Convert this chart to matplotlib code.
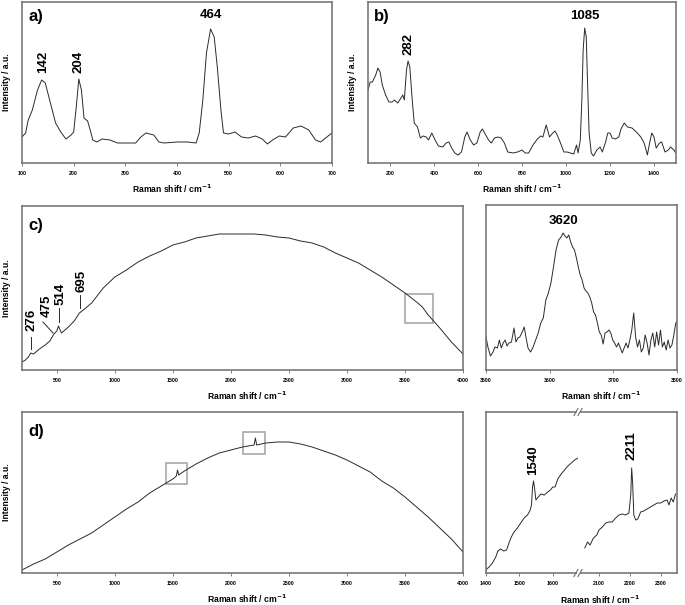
import matplotlib
matplotlib.use("Agg")
import matplotlib.pyplot as plt
from matplotlib.patches import Rectangle
from matplotlib.lines import Line2D

plt.rcParams['font.family'] = ['Liberation Sans', 'DejaVu Sans']
plt.rcParams['font.weight'] = 'bold'

# ---- data (intensity in arbitrary units) ----
a_x = [100, 107, 112, 120, 130, 138, 145, 155, 165, 175, 185, 195, 200, 205, 210,
       215, 220, 227, 232, 237, 245, 255, 270, 285, 300, 320, 330, 340, 355, 365,
       375, 400, 420, 437, 443, 450, 457, 465, 472, 478, 485, 490, 500, 512, 525,
       538, 552, 565, 575, 585, 598, 610, 625, 640, 655, 668, 678, 690, 700]
a_y = [26, 30, 43, 53, 73, 83, 80, 60, 40, 31, 24, 28, 31, 56, 84,
       73, 45, 42, 33, 23, 21, 24, 23, 20, 20, 20, 26, 30, 28, 21,
       20, 21, 21, 20, 30, 63, 110, 134, 126, 96, 53, 30, 29, 31, 26,
       25, 27, 24, 19, 23, 27, 26, 35, 37, 33, 23, 21, 26, 30]

b_x = [100, 110, 120, 135, 145, 155, 165, 180, 195, 210, 220, 235, 250, 258, 265,
       275, 282, 290, 300, 310, 325, 338, 350, 365, 375, 390, 405, 420, 440, 455,
       468, 480, 495, 510, 525, 540, 550, 565, 580, 595, 610, 620, 635, 648, 660,
       675, 690, 705, 720, 735, 760, 780, 800, 815, 830, 850, 870, 885, 895, 910,
       925, 940, 950, 960, 975, 990, 1005, 1020, 1035, 1048, 1055, 1065, 1072, 1078, 1085,
       1092, 1098, 1105, 1115, 1125, 1140, 1155, 1165, 1180, 1190, 1200, 1210, 1225, 1240, 1250,
       1265, 1280, 1300, 1320, 1340, 1355, 1370, 1380, 1390, 1400, 1410, 1425, 1435, 1450, 1465,
       1475, 1490, 1500]
b_y = [73, 81, 81, 88, 95, 91, 78, 68, 61, 61, 63, 60, 65, 68, 63,
       93, 102, 96, 66, 40, 36, 25, 27, 26, 23, 30, 23, 17, 16, 20,
       21, 15, 10, 8, 11, 26, 31, 23, 18, 20, 31, 34, 28, 23, 20,
       25, 26, 25, 20, 11, 10, 11, 13, 10, 10, 18, 24, 27, 26, 38,
       26, 30, 32, 28, 20, 11, 11, 10, 9, 18, 10, 23, 63, 113, 135,
       126, 80, 30, 10, 7, 13, 16, 11, 21, 30, 30, 25, 24, 26, 34,
       40, 36, 35, 31, 26, 20, 8, 20, 30, 26, 15, 20, 21, 11, 13,
       16, 13, 10]

c_x = [200, 230, 255, 276, 295, 310, 350, 400, 440, 475, 500, 514, 540, 600, 650,
       695, 750, 800, 900, 1000, 1100, 1200, 1300, 1400, 1500, 1600, 1700, 1800, 1900, 2000,
       2100, 2200, 2300, 2400, 2500, 2600, 2700, 2800, 2900, 3000, 3100, 3200, 3300, 3400, 3500,
       3600, 3650, 3700, 3800, 3900, 4000]
c_y = [8, 10, 13, 17, 16, 17, 21, 25, 29, 36, 39, 44, 37, 43, 49,
       57, 62, 67, 82, 93, 100, 108, 114, 119, 125, 128, 132, 134, 136, 136,
       136, 136, 135, 133, 132, 129, 127, 123, 117, 112, 107, 100, 93, 85, 77,
       68, 63, 55, 42, 28, 16]

oh_x = [3500, 3503, 3507, 3511, 3514, 3518, 3521, 3524, 3527, 3530, 3533, 3536, 3540, 3544, 3547,
        3550, 3553, 3557, 3560, 3563, 3566, 3570, 3574, 3578, 3582, 3586, 3590, 3594, 3598, 3602,
        3606, 3610, 3614, 3618, 3621, 3624, 3627, 3630, 3633, 3636, 3639, 3642, 3645, 3648, 3651,
        3654, 3657, 3660, 3663, 3666, 3669, 3672, 3675, 3678, 3681, 3684, 3687, 3690, 3693, 3696,
        3699, 3702, 3705, 3708, 3711, 3714, 3717, 3720, 3723, 3726, 3729, 3732, 3735, 3738, 3741,
        3744, 3747, 3750, 3753, 3756, 3759, 3762, 3765, 3768, 3771, 3774, 3777, 3780, 3783, 3786,
        3789, 3792, 3795, 3798, 3800]
oh_y = [33, 23, 14, 18, 23, 22, 30, 22, 27, 30, 24, 27, 28, 42, 28,
        32, 33, 38, 43, 32, 22, 18, 23, 30, 37, 47, 52, 70, 77, 87,
        103, 120, 130, 133, 137, 134, 132, 135, 128, 123, 120, 112, 103, 95, 90,
        82, 79, 77, 73, 67, 58, 55, 47, 38, 35, 26, 37, 38, 40, 37,
        30, 27, 23, 27, 22, 17, 22, 27, 22, 30, 40, 57, 33, 23, 30,
        18, 22, 35, 27, 15, 30, 37, 23, 38, 25, 40, 23, 28, 20, 30,
        22, 25, 35, 47, 48]

d_x = [200, 250, 300, 400, 500, 600, 700, 800, 900, 1000, 1100, 1200, 1300, 1400, 1500,
       1530, 1540, 1550, 1600, 1700, 1800, 1900, 2000, 2100, 2200, 2211, 2222, 2300, 2400, 2500,
       2600, 2700, 2800, 2900, 3000, 3100, 3200, 3300, 3400, 3500, 3600, 3700, 3800, 3900, 4000]
d_y = [3, 6, 9, 14, 21, 28, 34, 40, 48, 56, 64, 71, 80, 87, 94,
       97, 103, 98, 102, 109, 115, 120, 123, 126, 128, 135, 128, 130, 131, 131,
       129, 126, 122, 118, 113, 107, 101, 92, 85, 76, 66, 56, 45, 34, 21]

d1_x = [1400, 1410, 1420, 1430, 1436, 1444, 1454, 1462, 1469, 1476, 1484, 1494, 1504, 1514, 1524,
        1531, 1536, 1539, 1542, 1545, 1549, 1556, 1564, 1574, 1584, 1592, 1599, 1606, 1614, 1624,
        1634, 1644, 1654, 1664, 1674]
d1_y = [3, 6, 10, 16, 22, 24, 22, 23, 30, 36, 41, 45, 50, 55, 58,
        62, 68, 86, 92, 85, 73, 76, 79, 78, 81, 83, 86, 86, 94, 99,
        103, 107, 110, 113, 115]

d2_x = [2054, 2063, 2071, 2082, 2093, 2100, 2111, 2122, 2133, 2143, 2154, 2165, 2176, 2186, 2197,
        2203, 2206, 2209, 2213, 2219, 2226, 2235, 2245, 2256, 2267, 2278, 2289, 2300, 2311, 2321,
        2327, 2334, 2341, 2348]
d2_y = [25, 31, 28, 35, 38, 43, 46, 50, 51, 51, 55, 58, 59, 58, 60,
        78, 105, 91, 58, 53, 54, 61, 62, 64, 66, 68, 70, 70, 72, 73,
        68, 75, 71, 79]

W, H = 685, 605
LINE = '#2a2a2a'
FRAME = '#6e6e6e'
BOX = '#a0a0a0'
XLABEL = 'Raman shift / cm$^{\\mathbf{-1}}$'


def px_axes(l, t, r, b):
    return fig.add_axes([l / W, 1 - b / H, (r - l) / W, (b - t) / H])


def style(ax, ylabel=True, xlab_dx=0):
    for s in ax.spines.values():
        s.set_color(FRAME)
        s.set_linewidth(1.1)
    ax.tick_params(axis='x', direction='out', length=2.5, width=0.6, color=FRAME,
                   labelsize=3.8, pad=3)
    ax.set_yticks([])
    bb = ax.get_position()
    wpx, hpx = bb.width * W, bb.height * H
    ax.set_xlabel(XLABEL, fontsize=6.2, fontweight='bold')
    ax.xaxis.set_label_coords(0.5 + xlab_dx / wpx, -20 / hpx)
    if ylabel:
        ax.set_ylabel('Intensity / a.u.', fontsize=6.2, fontweight='bold')
        ax.yaxis.set_label_coords(-11 / wpx, 0.5)
    for lab in ax.get_xticklabels():
        lab.set_fontweight('bold')


fig = plt.figure(figsize=(W / 100, H / 100), dpi=100)

# a)
ax = px_axes(22, 2, 332, 163)
ax.plot(a_x, a_y, color=LINE, lw=0.7)
ax.set_xlim(100, 700)
ax.set_ylim(0, 161)
ax.set_xticks([100, 200, 300, 400, 500, 600, 700])
style(ax, xlab_dx=-5)
ax.text(0.02, 0.91, 'a)', transform=ax.transAxes, fontsize=12, fontweight='bold', va='center')
ax.text(141, 101, '142', rotation=90, ha='center', va='center', fontsize=9.5, fontweight='bold')
ax.text(210, 101, '204', rotation=90, ha='center', va='center', fontsize=9.5, fontweight='bold')
ax.text(466, 148, '464', ha='center', va='center', fontsize=9.5, fontweight='bold')

# b)
ax = px_axes(368, 2, 676, 163)
ax.plot(b_x, b_y, color=LINE, lw=0.7)
ax.set_xlim(100, 1500)
ax.set_ylim(0, 161)
ax.set_xticks([200, 400, 600, 800, 1000, 1200, 1400])
style(ax)
ax.text(0.02, 0.91, 'b)', transform=ax.transAxes, fontsize=12, fontweight='bold', va='center')
ax.text(282, 119, '282', rotation=90, ha='center', va='center', fontsize=9.5, fontweight='bold')
ax.text(1086, 147, '1085', ha='center', va='center', fontsize=9.5, fontweight='bold')

# c)
ax = px_axes(22, 206, 463, 370)
ax.plot(c_x, c_y, color=LINE, lw=0.7)
ax.set_xlim(200, 4000)
ax.set_ylim(0, 164)
ax.set_xticks([500, 1000, 1500, 2000, 2500, 3000, 3500, 4000])
style(ax, xlab_dx=5)
ax.text(0.015, 0.88, 'c)', transform=ax.transAxes, fontsize=12, fontweight='bold', va='center')
ax.add_patch(Rectangle((3500, 47), 245, 29, fill=False, ec=BOX, lw=1.1))
c_labels = [('276', 286, 50, (278, 278), (33, 21)),
            ('475', 415, 64, (381, 467), (48, 37)),
            ('514', 528, 76, (519, 519), (62, 48)),
            ('695', 709, 89, (700, 700), (75, 62))]
for txt, tx, ty, lx, ly in c_labels:
    ax.text(tx, ty, txt, rotation=90, ha='center', va='center', fontsize=9.5, fontweight='bold')
    ax.plot(lx, ly, color=LINE, lw=0.7)

# c) inset
ax = px_axes(486, 205, 677, 370)
ax.plot(oh_x, oh_y, color=LINE, lw=0.7)
ax.set_xlim(3500, 3800)
ax.set_ylim(0, 165)
ax.set_xticks([3500, 3600, 3700, 3800])
style(ax, ylabel=False, xlab_dx=20)
ax.text(3622, 149, '3620', ha='center', va='center', fontsize=9.5, fontweight='bold')

# d)
ax = px_axes(22, 412, 463, 573)
ax.plot(d_x, d_y, color=LINE, lw=0.7)
ax.set_xlim(200, 4000)
ax.set_ylim(0, 161)
ax.set_xticks([500, 1000, 1500, 2000, 2500, 3000, 3500, 4000])
style(ax, xlab_dx=5)
ax.text(0.015, 0.88, 'd)', transform=ax.transAxes, fontsize=12, fontweight='bold', va='center')
ax.add_patch(Rectangle((1444, 89), 181, 21, fill=False, ec=BOX, lw=1.1))
ax.add_patch(Rectangle((2105, 119), 187, 22, fill=False, ec=BOX, lw=1.1))

# d) inset with broken axis
axl = px_axes(485.7, 412, 578, 573)
axr = px_axes(578, 412, 676.7, 573)
axl.plot(d1_x, d1_y, color=LINE, lw=0.7)
axr.plot(d2_x, d2_y, color=LINE, lw=0.7)
axl.set_xlim(1400, 1674)
axr.set_xlim(2032, 2352)
for a_ in (axl, axr):
    a_.set_ylim(0, 161)
axl.set_xticks([1400, 1500, 1600])
axr.set_xticks([2100, 2200, 2300])
style(axl, ylabel=False)
style(axr, ylabel=False)
axl.set_xlabel('')
axr.xaxis.set_label_coords((600 - 578) / 98.7, -21 / 161)
axl.spines['right'].set_visible(False)
axr.spines['left'].set_visible(False)
axl.text(1540, 113, '1540', rotation=90, ha='center', va='center', fontsize=9.5, fontweight='bold')
axr.text(2207, 127, '2211', rotation=90, ha='center', va='center', fontsize=9.5, fontweight='bold')
for yb in (412, 573):
    fig.add_artist(Rectangle(((578 - 1.5) / W, 1 - (yb + 1.5) / H), 3 / W, 3 / H,
                             color='white', lw=0, zorder=5))
    for dx in (-2.0, 2.0):
        x0 = 578 + dx
        fig.add_artist(Line2D([(x0 - 2) / W, (x0 + 2) / W],
                              [1 - (yb + 3.5) / H, 1 - (yb - 3.5) / H],
                              color=FRAME, lw=0.8, zorder=6))

fig.savefig('out.png', dpi=100)
